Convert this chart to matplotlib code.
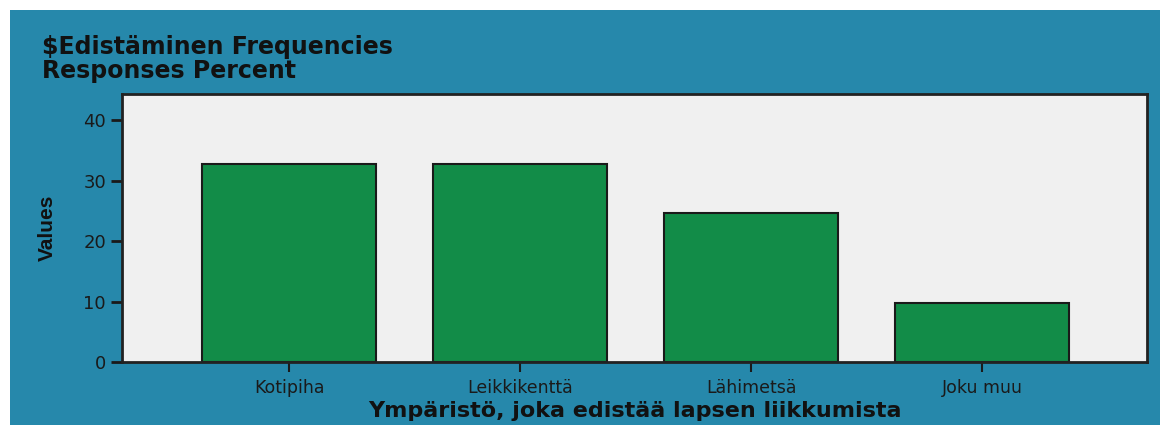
import matplotlib.pyplot as plt
from matplotlib.patches import Rectangle

categories = ["Kotipiha", "Leikkikenttä", "Lähimetsä", "Joku muu"]
percents = [32.8, 32.8, 24.6, 9.8]
yticks = [0, 10, 20, 30, 40]

frame_blue = "#2688ab"
bar_green = "#128c48"
plot_bg = "#f0f0f0"

fig = plt.figure(figsize=(11.66, 4.25), dpi=100)
fig.patch.set_facecolor("white")
# blue frame behind everything
fig.patches.append(Rectangle((10 / 1166, 0), 1150 / 1166, 415 / 425,
                             transform=fig.transFigure, facecolor=frame_blue,
                             edgecolor="none", zorder=-5))

ax = fig.add_axes([122 / 1166, 1 - 362 / 425, 1025 / 1166, 268 / 425])
ax.set_zorder(2)
ax.set_facecolor(plot_bg)
x = range(len(categories))
ax.bar(x, percents, width=0.753, color=bar_green, edgecolor="#1a1a1a",
       linewidth=1.5, zorder=2)

ax.set_xlim(-0.723, 3.712)
ax.set_ylim(0, 44.3)
ax.set_yticks(yticks)
ax.set_xticks(list(x))
ax.set_xticklabels(categories, fontsize=12.5, color="#1a1a1a")
ax.tick_params(axis="y", labelsize=13, colors="#1a1a1a", length=8, width=2)
ax.tick_params(axis="x", length=7, width=1.5, pad=5, colors="#1a1a1a")
for s in ax.spines.values():
    s.set_linewidth(2)
    s.set_color("#222222")

ax.set_ylabel("Values", fontsize=15, fontweight="bold",
              family=["Liberation Sans", "DejaVu Sans"],
              labelpad=19, color="#111111")
ax.set_xlabel("Ympäristö, joka edistää lapsen liikkumista", fontsize=16,
              fontweight="bold", labelpad=3, color="#111111")

fig.text(42 / 1166, 1 - 47 / 425, "$Edistäminen Frequencies", fontsize=17,
         fontweight="bold", va="center", ha="left", color="#111111")
fig.text(42 / 1166, 1 - 71 / 425, "Responses Percent", fontsize=17,
         fontweight="bold", va="center", ha="left", color="#111111")

fig.savefig("out.png", dpi=100)
